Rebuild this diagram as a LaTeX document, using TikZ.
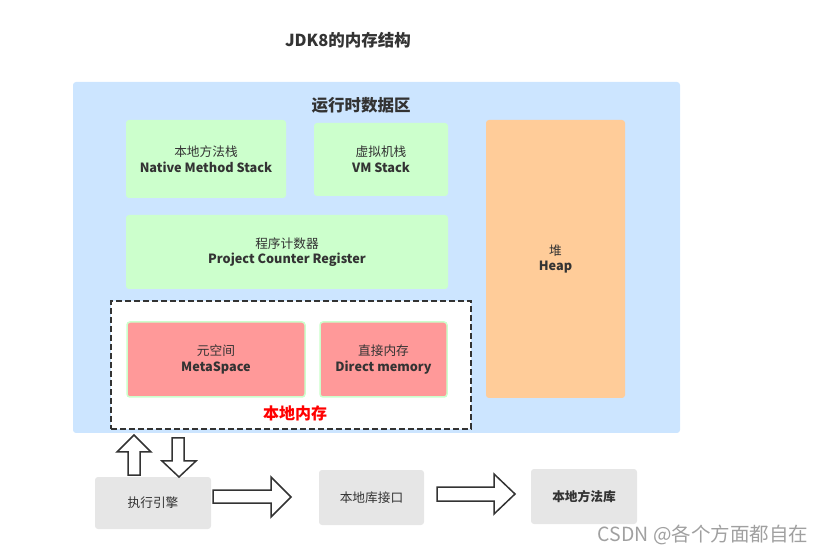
\documentclass[tikz,border=0pt]{standalone}
\usepackage{fontspec}
\setmainfont{Noto Sans CJK SC}
\usetikzlibrary{positioning}

\definecolor{runblue}{HTML}{CCE5FF}
\definecolor{boxgreen}{HTML}{CCFFCC}
\definecolor{heaporange}{HTML}{FFCC99}
\definecolor{metared}{HTML}{FF9999}
\definecolor{libgrey}{HTML}{E6E6E6}
\definecolor{textgrey}{HTML}{333333}
\definecolor{markgrey}{HTML}{A0A0A0}

\tikzset{
  box/.style={rounded corners=3pt, align=center, text=textgrey, inner sep=0pt,
              font=\fontsize{12.7}{15.5}\selectfont},
  greenbox/.style={box, fill=boxgreen},
  redbox/.style={box, fill=metared, draw=boxgreen, line width=1.5pt},
  greybox/.style={box, fill=libgrey},
  headtext/.style={text=textgrey, font=\bfseries\fontsize{16.5}{19}\selectfont},
  blockarrow/.style={draw=textgrey, fill=white, line width=1.5pt, line join=miter},
}

\begin{document}
\begin{tikzpicture}[x=1pt,y=-1pt]
% Frame of the whole picture
\useasboundingbox (0,0) rectangle (820,553);

% Title
\node[headtext] (title) at (348,40) {JDK8的内存结构};

% Runtime data area
\node[box, fill=runblue, minimum width=607pt, minimum height=351pt] (runtime) at (376.5,257.5) {};
\node[headtext] (runlabel) at (361,105) {运行时数据区};

% Stacks and counter
\node[greenbox, minimum width=160pt, minimum height=78pt] (native) at (206,159)
    {本地方法栈\\\textbf{Native Method Stack}};
\node[greenbox, minimum width=134pt, minimum height=73pt] (vmstack) at (381,159.5)
    {虚拟机栈\\\textbf{VM Stack}};
\node[greenbox, minimum width=322pt, minimum height=74pt] (counter) at (287,252)
    {程序计数器\\\textbf{Project Counter Register}};

% Heap
\node[box, fill=heaporange, minimum width=139pt, minimum height=278pt] (heap) at (555.5,259)
    {堆\\\textbf{Heap}};

% Native memory (dashed frame)
\node[draw=textgrey, fill=white, dash pattern=on 6pt off 3pt, line width=1.8pt,
      minimum width=360pt, minimum height=128pt] (nativemem) at (291,365) {};
\node[redbox, minimum width=178pt, minimum height=75pt] (meta) at (216,359.5)
    {元空间\\\textbf{MetaSpace}};
\node[redbox, minimum width=127pt, minimum height=75pt] (direct) at (383.5,359.5)
    {直接内存\\\textbf{Direct memory}};
\node[text=red, font=\bfseries\fontsize{16}{19}\selectfont] (memlabel) at (295,413) {本地内存};

% Bottom row
\node[greybox, minimum width=116pt, minimum height=52pt] (engine) at (153,503) {执行引擎};
\node[greybox, minimum width=105pt, minimum height=55pt] (iface) at (371.5,497.5) {本地库接口};
\node[greybox, minimum width=106pt, minimum height=55pt, font=\bfseries\fontsize{12.7}{15.5}\selectfont]
    (lib) at (584,496.5) {本地方法库};

% Block arrows
\draw[blockarrow] (134,435) -- (151,452) -- (140,452) -- (140,475) -- (128,475) -- (128,452) -- (117,452) -- cycle;  % up
\draw[blockarrow] (172,438) -- (184,438) -- (184,461) -- (196,461) -- (179,477) -- (162,461) -- (172,461) -- cycle;  % down
\draw[blockarrow] (213,490) -- (271,490) -- (271,477) -- (291,497) -- (271,517) -- (271,503) -- (213,503) -- cycle;  % to interface
\draw[blockarrow] (437,487) -- (494,487) -- (494,474) -- (515,494) -- (494,514) -- (494,501) -- (437,501) -- cycle;  % to library

% Watermark
\node[text=markgrey, font=\fontsize{19.5}{22}\selectfont] (mark) at (703,535) {CSDN @各个方面都自在};
\end{tikzpicture}
\end{document}
